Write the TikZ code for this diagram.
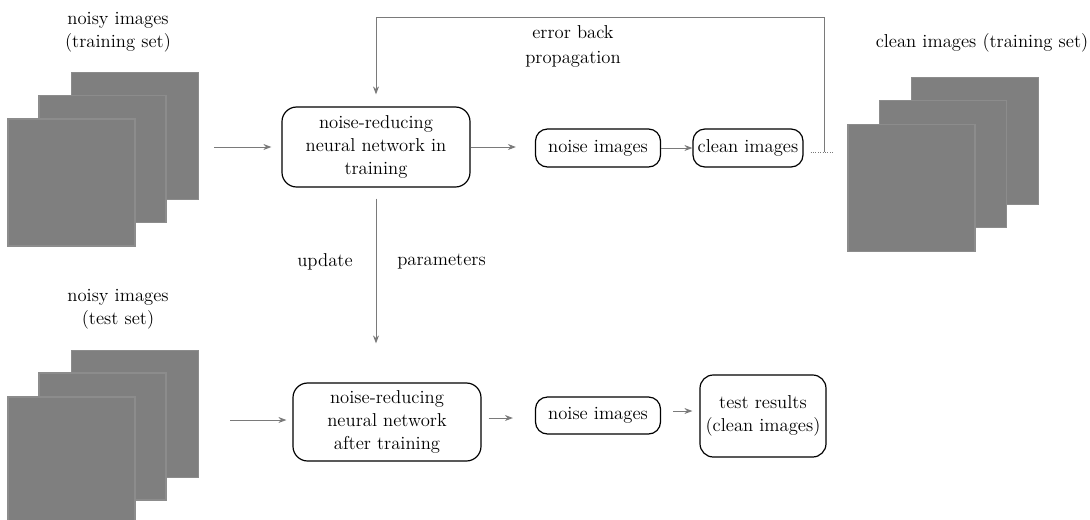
\documentclass[tikz,border=0pt]{standalone}
\usetikzlibrary{arrows.meta}
\definecolor{sqfill}{HTML}{7F7F7F}
\definecolor{sqedge}{HTML}{8C8C8C}
\definecolor{arrgray}{HTML}{7A7A7A}
\begin{document}
\begin{tikzpicture}[x=0.75pt,y=-0.75pt,
  every node/.style={font=\rmfamily\fontsize{14}{17.3}\selectfont},
  imgsq/.style={draw=sqedge,fill=sqfill,line width=0.8pt,minimum size=95.25pt,inner sep=0pt},
  bigbox/.style={draw=black,line width=0.9pt,rounded corners=11pt,align=center,inner sep=0pt,minimum width=141pt},
  smallbox/.style={draw=black,line width=0.9pt,rounded corners=9pt,align=center,inner sep=0pt},
  arr/.style={draw=arrgray,line width=0.75pt,-{Stealth[length=6pt,width=4.5pt]}},
  dotline/.style={draw=arrgray,line width=0.75pt,dash pattern=on 0.8pt off 1pt},
  lbl/.style={align=center,inner sep=0pt}
]
\useasboundingbox (0,0) rectangle (1090,519);

% noisy images (training set)
\node[lbl] (lblTrain) at (118,32) {noisy images\\(training set)};
\node[imgsq] (tb) at (135,136) {};
\node[imgsq] (tm) at (102.5,159) {};
\node[imgsq] (tf) at (71.5,182.5) {};

% noisy images (test set)
\node[lbl] (lblTest) at (118,309) {noisy images\\(test set)};
\node[imgsq] (sb) at (135,414) {};
\node[imgsq] (sm) at (102.5,436.5) {};
\node[imgsq] (sf) at (71.5,460.5) {};

% clean images (training set)
\node[lbl] (lblClean) at (982,43) {clean images (training set)};
\node[imgsq] (cb) at (975,141) {};
\node[imgsq] (cm) at (943,164) {};
\node[imgsq] (cf) at (911.5,188) {};

% training row
\node[bigbox,minimum height=60pt] (box1) at (376,147) {noise-reducing\\neural network in\\training};
\node[smallbox,minimum width=93.75pt,minimum height=28.5pt] (noise1) at (598,148) {noise images};
\node[smallbox,minimum width=82.5pt,minimum height=28.5pt] (clean1) at (748,148) {clean images};

% test row
\node[bigbox,minimum height=58.5pt] (box2) at (387,422) {noise-reducing\\neural network\\after training};
\node[smallbox,minimum width=93.75pt,minimum height=27.75pt] (noise2) at (598,415.5) {noise images};
\node[smallbox,minimum width=94.5pt,minimum height=61.5pt,rounded corners=10pt] (test) at (763,416) {test results\\(clean images)};

% labels
\node[lbl] (lblErr) at (573,46) {error back\\[1.5pt]propagation};
\node[lbl] (lblUpd) at (325,262) {update};
\node[lbl,anchor=west] (lblPar) at (397,262) {parameters};

% connectors, training row
\draw[arr,shorten <=11.25pt,shorten >=7.5pt] (tb.east |- box1.west) -- (box1.west);
\draw[arr,shorten >=14.25pt] (box1.east) -- (box1.east -| noise1.west);
\draw[arr] (noise1.east) -- (clean1.west);

% error back propagation
\coordinate (dotE) at (833,152);
\coordinate (fb) at (824,152);
\coordinate (fbTop) at (824,17);
\draw[dotline,shorten <=5.25pt] (clean1.east |- dotE) -- (dotE);
\draw[arr,shorten >=9pt] (fb) -- (fbTop) -| (box1.north);

% update parameters
\draw[arr,shorten <=8.25pt,shorten >=29.25pt] (box1.south) -- (box1.south |- box2.north);

% connectors, test row
\draw[arr,shorten <=23.25pt,shorten >=4.5pt] (sb.east |- 0,420) -- (box2.west |- 0,420);
\draw[arr,shorten <=5.25pt,shorten >=16.5pt] (box2.east |- 0,418) -- (noise2.west |- 0,418);
\draw[arr,shorten <=9pt,shorten >=5.25pt] (noise2.east |- 0,411) -- (test.west |- 0,411);
\end{tikzpicture}
\end{document}
